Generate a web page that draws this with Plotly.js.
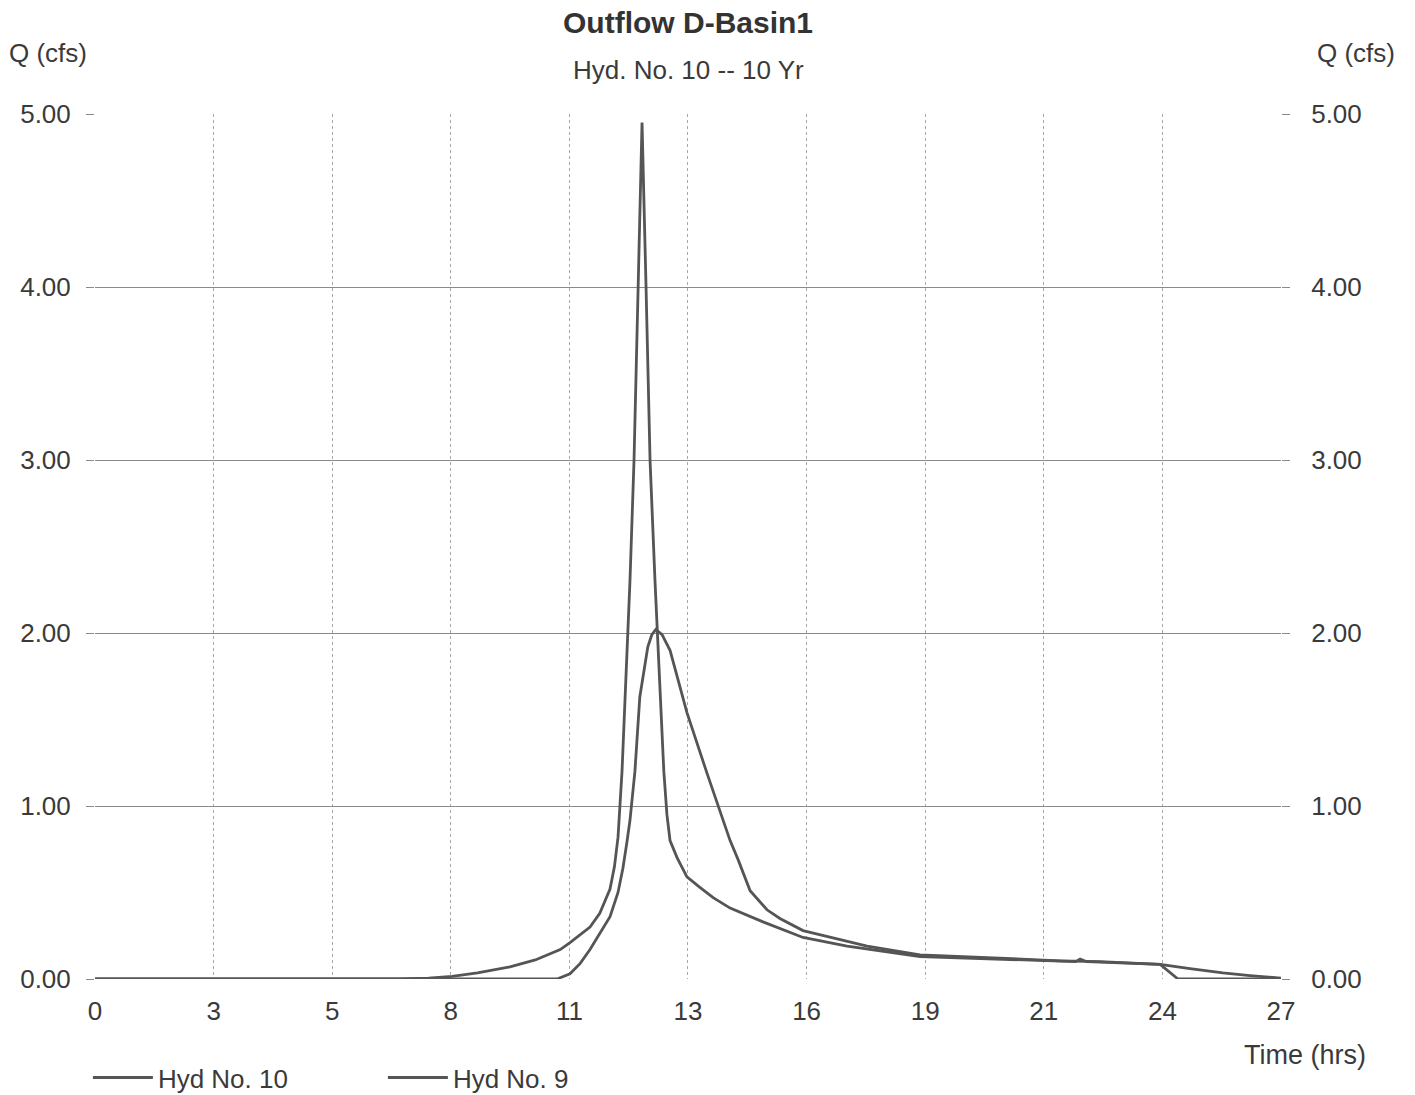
<!DOCTYPE html>
<html>
<head>
<meta charset="utf-8">
<script src="https://cdn.plot.ly/plotly-3.0.1.min.js"></script>
<style>
html,body{margin:0;padding:0;background:#fff;}
#chart{width:1415px;height:1095px;}
</style>
</head>
<body>
<div id="chart"></div>
<script>
// Hyd No. 10 (outflow) - time (hrs) and Q (cfs)
const hyd10Time = [0, 10.39, 10.68, 10.91, 11.13, 11.35, 11.58, 11.76, 11.87, 11.96, 12.03, 12.14, 12.25, 12.43, 12.52, 12.61, 12.75, 12.93, 13.31, 13.76, 14.28, 14.46, 14.73, 15.11, 15.40, 15.92, 16.53, 17.36, 18.55, 20.64, 21.70, 22.6, 23.95, 24.62, 25.36, 25.97, 26.67];
const hyd10Q    = [0, 0,     0.03,  0.09,  0.17,  0.26,  0.36,  0.50,  0.64,  0.79,  0.92,  1.20,  1.63,  1.92,  1.99,  2.02,  1.99,  1.90,  1.54,  1.19,  0.80,  0.69,  0.51,  0.40,  0.35,  0.28,  0.24,  0.19,  0.14,  0.115, 0.105, 0.10, 0.085, 0.06,  0.035, 0.02,  0.005];

// Hyd No. 9 (inflow) - time (hrs) and Q (cfs)
const hyd9Time = [0, 6.8, 7.5, 8.03, 8.6, 9.33, 9.9, 10.46, 10.68, 11.13, 11.35, 11.58, 11.68, 11.76, 11.85, 11.94, 12.03, 12.12, 12.21, 12.30, 12.39, 12.48, 12.59, 12.70, 12.79, 12.86, 12.93, 13.09, 13.31, 13.60, 13.90, 14.28, 15.02, 15.92, 16.91, 18.55, 20.64, 21.70, 22.05, 22.15, 22.3, 23.95, 24.17, 24.35, 26.67];
const hyd9Q    = [0, 0,   0.005, 0.015, 0.035, 0.07, 0.11, 0.17, 0.21, 0.30, 0.38, 0.52, 0.65, 0.82, 1.20, 1.75, 2.31, 3.00, 4.00, 4.95, 4.00, 3.00, 2.31, 1.70, 1.20, 0.95, 0.80, 0.70, 0.59, 0.53, 0.47, 0.41, 0.33, 0.24, 0.19, 0.13, 0.11, 0.10, 0.10, 0.115, 0.10, 0.085, 0.04, 0, 0];

// Axis ticks
const xTickVals = [0, 2.667, 5.333, 8, 10.667, 13.333, 16, 18.667, 21.333, 24, 26.667];
const xTickText = ['0', '3', '5', '8', '11', '13', '16', '19', '21', '24', '27'];
const yTickVals = [0, 1, 2, 3, 4, 5];
const yTickText = ['0.00', '1.00', '2.00', '3.00', '4.00', '5.00'];

const FONT = '"Liberation Sans", Arial, sans-serif';
const TXT = '#3a3a3a';

const traces = [
  {x: hyd10Time, y: hyd10Q, name: 'Hyd No. 10', type: 'scatter', mode: 'lines',
   line: {color: '#555555', width: 2.8}},
  {x: hyd9Time, y: hyd9Q, name: 'Hyd No. 9', type: 'scatter', mode: 'lines',
   line: {color: '#555555', width: 2.8}},
  {x: [0], y: [0], yaxis: 'y2', showlegend: false, mode: 'markers',
   marker: {opacity: 0}, hoverinfo: 'skip'}
];

const layout = {
  width: 1415, height: 1095,
  margin: {l: 95, r: 134, t: 114, b: 116, autoexpand: false},
  paper_bgcolor: '#fff', plot_bgcolor: '#fff',
  font: {family: FONT, color: TXT, size: 24},
  showlegend: true,
  legend: {orientation: 'h', x: -0.006, xanchor: 'left', y: -0.114, yanchor: 'middle',
           font: {size: 26, family: FONT, color: TXT}, entrywidth: 220, itemwidth: 60,
           bgcolor: 'rgba(0,0,0,0)'},
  xaxis: {range: [0, 26.667], tickmode: 'array', tickvals: xTickVals, ticktext: xTickText,
          showgrid: true, gridcolor: '#a8a8a8', griddash: 'dot', gridwidth: 1,
          zeroline: false, showline: false, ticks: '', ticklabelstandoff: 14,
          tickfont: {size: 26, family: FONT, color: TXT}},
  yaxis: {range: [0, 5], tickmode: 'array', tickvals: yTickVals, ticktext: yTickText,
          showgrid: true, gridcolor: '#8a8a8a', gridwidth: 1, zeroline: false, showline: false,
          ticks: 'outside', ticklen: 8, tickcolor: '#8a8a8a', ticklabelstandoff: 10,
          tickfont: {size: 26, family: FONT, color: TXT}},
  yaxis2: {range: [0, 5], overlaying: 'y', side: 'right', tickmode: 'array',
           tickvals: yTickVals, ticktext: yTickText, showgrid: false, zeroline: false,
           showline: false, ticks: 'outside', ticklen: 8, tickcolor: '#8a8a8a',
           ticklabelstandoff: 16, tickfont: {size: 26, family: FONT, color: TXT}},
  annotations: [
    {text: '<b>Outflow D-Basin1</b>', xref: 'paper', yref: 'paper', x: 0.5, y: 1.106,
     xanchor: 'center', yanchor: 'middle', showarrow: false,
     font: {size: 30, family: FONT, color: '#333'}},
    {text: 'Hyd. No. 10 -- 10 Yr', xref: 'paper', yref: 'paper', x: 0.5, y: 1.051,
     xanchor: 'center', yanchor: 'middle', showarrow: false,
     font: {size: 26, family: FONT, color: TXT}},
    {text: 'Q (cfs)', xref: 'paper', yref: 'paper', x: -0.074, y: 1.071,
     xanchor: 'left', yanchor: 'middle', showarrow: false,
     font: {size: 26, family: FONT, color: TXT}},
    {text: 'Q (cfs)', xref: 'paper', yref: 'paper', x: 1.0285, y: 1.071,
     xanchor: 'left', yanchor: 'middle', showarrow: false,
     font: {size: 26, family: FONT, color: TXT}},
    {text: 'Time (hrs)', xref: 'paper', yref: 'paper', x: 1.073, y: -0.088,
     xanchor: 'right', yanchor: 'middle', showarrow: false,
     font: {size: 27, family: FONT, color: TXT}}
  ]
};

Plotly.newPlot('chart', traces, layout, {displayModeBar: false, staticPlot: true});
</script>
</body>
</html>
